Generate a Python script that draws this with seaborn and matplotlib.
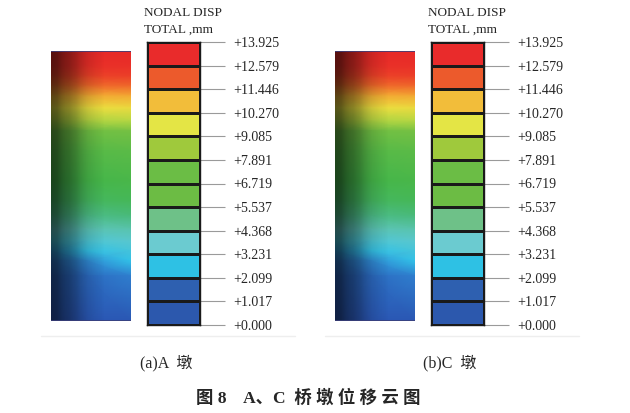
import numpy as np
import matplotlib
matplotlib.use("Agg")
import matplotlib.pyplot as plt
from matplotlib.colors import ListedColormap, LinearSegmentedColormap, Normalize
from matplotlib.lines import Line2D
import seaborn as sns

W, H = 630, 413

# legend of the FE contour plot
TICK_VALUES = [13.925, 12.579, 11.446, 10.270, 9.085, 7.891, 6.719,
               5.537, 4.368, 3.231, 2.099, 1.017, 0.000]
BAND_COLORS = ["#e92b2b", "#ec5a2c", "#f2bd3a", "#e4e545", "#9fc93c", "#6bbd45",
               "#6cbc44", "#6ec188", "#6bcbd0", "#2ec1e4", "#2e60b0", "#2c58ad"]

PANEL_LABELS = ["(a)A  墩", "(b)C  墩"]
CAPTION = "图 8    A、C  桥 墩 位 移 云 图"

# displacement (depth in px from top, 3 columns)
FIELD_DEPTH = [0, 15, 25, 35, 45, 57, 70, 80, 100, 130, 150, 165, 178, 190, 200, 210, 225, 270]
FIELD_COLS = [0.0, 0.45, 1.0]
FIELD_VALUES = [
    [13.9, 13.9, 13.9],
    [13.6, 13.7, 13.7],
    [13.1, 13.2, 13.3],
    [12.2, 12.3, 12.4],
    [11.2, 11.3, 11.4],
    [10.1, 10.2, 10.3],
    [9.1, 9.2, 9.3],
    [8.1, 8.2, 8.3],
    [7.5, 7.5, 7.6],
    [7.0, 7.0, 7.1],
    [6.3, 6.4, 6.6],
    [5.5, 5.6, 5.8],
    [4.6, 4.8, 5.0],
    [3.6, 3.9, 4.2],
    [2.5, 3.1, 3.6],
    [1.8, 2.2, 3.0],
    [1.3, 1.5, 2.0],
    [0.6, 0.8, 0.9],
]
# darkening of the vertical strips on the left side of the pier (4 px columns)
SHADE = [0.62, 0.6, 0.52, 0.46, 0.42, 0.36, 0.3, 0.22, 0.16, 0.11, 0.08,
         0.05, 0.03, 0, 0, 0, 0, 0, 0, 0]

GRADIENT_STOPS = [0.0, 1.0, 2.0, 3.0, 4.5, 6.0, 7.0, 8.5, 10.0, 11.5, 12.6, 13.925]
GRADIENT_COLORS = ["#2a50ae", "#2a58b4", "#2f7fcf", "#32c2e8", "#62c8c8", "#45b870",
                   "#45b64a", "#7cc242", "#e8e842", "#f4a532", "#ee5a28", "#e82828"]

PANEL_OFFSETS = [0, 284]


def px_rect(x0, y0, x1, y1):
    return [x0 / W, 1 - y1 / H, (x1 - x0) / W, (y1 - y0) / H]


def draw_pier(fig, dx):
    ax = fig.add_axes(px_rect(51 + dx, 51, 131 + dx, 321))
    cmap = LinearSegmentedColormap.from_list(
        "disp", list(zip(np.array(GRADIENT_STOPS) / GRADIENT_STOPS[-1], GRADIENT_COLORS)))
    X, Y = np.meshgrid(FIELD_COLS, FIELD_DEPTH)
    ax.pcolormesh(X, Y, np.array(FIELD_VALUES), shading="gouraud", cmap=cmap,
                  norm=Normalize(0, TICK_VALUES[0]))
    shade = np.zeros((1, len(SHADE), 4))
    shade[..., 3] = SHADE
    ax.imshow(shade, extent=(0, 1, 270, 0), aspect="auto", interpolation="bilinear", zorder=3)
    ax.axhline(0, color="#3c3f7a", lw=1.2, zorder=4)
    ax.axhline(270, color="#3c3f7a", lw=1.2, zorder=4)
    ax.set_xlim(0, 1)
    ax.set_ylim(270, 0)
    ax.axis("off")


def draw_legend(fig, dx):
    ax = fig.add_axes(px_rect(147 + dx, 42, 200 + dx, 325))
    sns.heatmap(np.arange(len(BAND_COLORS)).reshape(-1, 1), cmap=ListedColormap(BAND_COLORS),
                vmin=-0.5, vmax=len(BAND_COLORS) - 0.5, cbar=False,
                linewidths=0.8, linecolor="#1a1a1a", ax=ax)
    ax.set_xticks([])
    ax.yaxis.tick_right()
    ax.set_yticks(np.arange(len(TICK_VALUES)))
    ax.set_yticklabels([f"+{v:.3f}" for v in TICK_VALUES], rotation=0)
    ax.tick_params(axis="y", length=18, width=0.8, color="#9a9a9a", pad=6, labelsize=10,
                   left=False, right=True)
    for sp in ax.spines.values():
        sp.set_visible(True)
        sp.set_color("#1a1a1a")
        sp.set_linewidth(1.0)
    fig.text((144 + dx) / W, 1 - 13 / H, "NODAL DISP", ha="left", va="center", fontsize=9.5)
    fig.text((144 + dx) / W, 1 - 30 / H, "TOTAL ,mm", ha="left", va="center", fontsize=9.5)


def main():
    sns.set_theme(style="white")
    plt.rcParams["font.family"] = ["Liberation Serif", "Noto Sans CJK SC"]

    fig = plt.figure(figsize=(6.3, 4.13), dpi=100)
    for dx, label in zip(PANEL_OFFSETS, PANEL_LABELS):
        draw_pier(fig, dx)
        draw_legend(fig, dx)
        fig.text((166 + dx) / W, 1 - 363 / H, label, ha="center", va="center", fontsize=11.5)
        fig.add_artist(Line2D([(41 + dx) / W, (295 + dx) / W], [1 - 336 / H] * 2,
                              color="#eeeeee", lw=1))

    fig.text(308 / W, 1 - 398 / H, CAPTION, ha="center", va="center",
             fontsize=12.5, fontweight="bold")

    fig.savefig("out.png", dpi=100)
    plt.close(fig)


if __name__ == "__main__":
    main()
